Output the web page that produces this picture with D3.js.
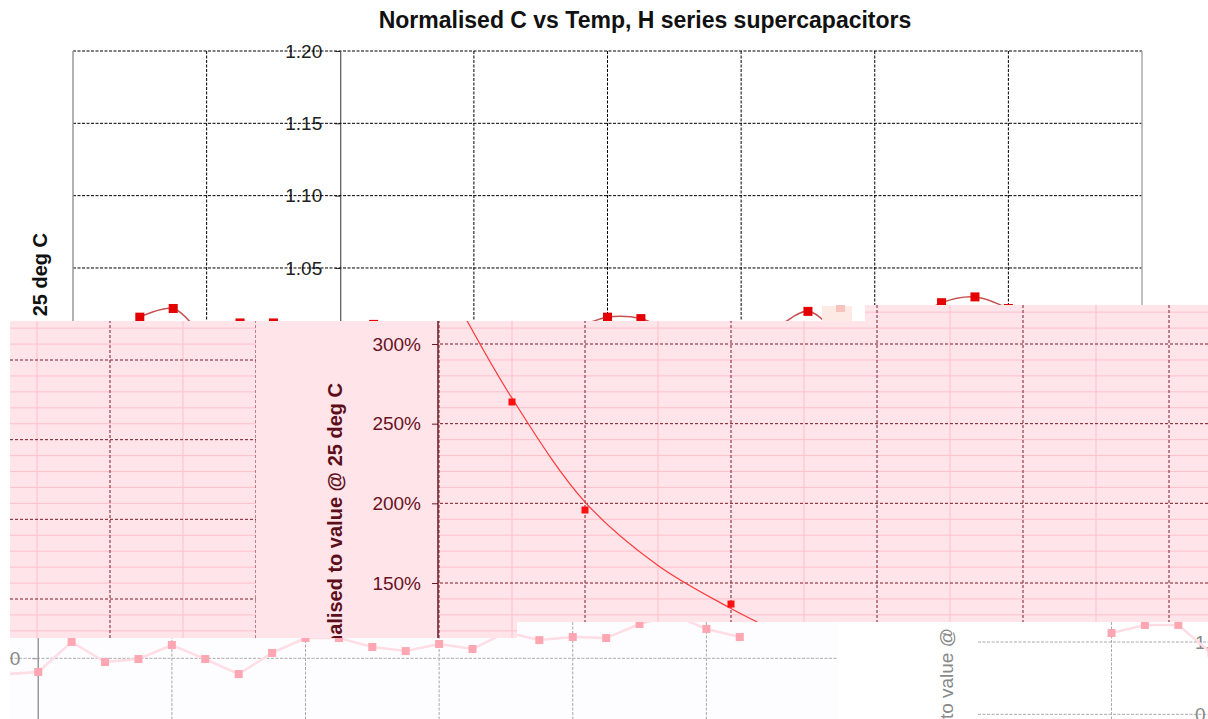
<!DOCTYPE html>
<html>
<head>
<meta charset="utf-8">
<script src="https://cdn.jsdelivr.net/npm/d3@7"></script>
<style>
  body { margin: 0; background: #fff; }
  svg { display: block; }
  text { font-family: "Liberation Sans", Arial, sans-serif; }
</style>
</head>
<body>
<script>
// chart text
const title = "Normalised C vs Temp, H series supercapacitors";
const yLabel = "Normalised to value @ 25 deg C";

// top chart (capacitance, white panel)
const topTemps  = [-35, -32.5, -30, -27.5, -25, -20, -17.5, -10, -2.5, 0, 2.5, 5, 10, 12.5, 15, 17.5, 22.5, 25, 27.5, 30];
const topValues = [1.016, 1.022, 1.004, 1.012, 1.012, 1.007, 1.011, 1.005, 1.009, 1.016, 1.015, 1.005, 1.006, 1.009, 1.020, 1.006, 1.012, 1.026, 1.030, 1.022];
const topTicks  = [1.05, 1.10, 1.15, 1.20];

// pink chart (ESR, percent)
const esrTemps  = [-35, -30, -20];
const esrValues = [2.636, 1.958, 1.368];
// trend line
const fitTemps  = [-38.4, -35, -30, -25, -20, -18.2];
const fitValues = [3.20, 2.66, 2.008, 1.61, 1.34, 1.255];
const pctTicks  = [1.5, 2.0, 2.5, 3.0];

// faded chart underneath (bottom left)
const lowTemps  = [-22.5, -20, -17.5, -15, -12.5, -10, -7.5, -5, -2.5, 0, 2.5, 5, 7.5, 10, 12.5, 15, 17.5, 20, 22.5, 25, 27.5, 30, 32.5];
const lowValues = [0.989, 0.9905, 1.0113, 0.9974, 0.9995, 1.0092, 0.9995, 0.9891, 1.0037, 1.014, 1.014, 1.0078, 1.005, 1.0099, 1.0064, 1.018, 1.0126, 1.0147, 1.014, 1.0237, 1.030, 1.0203, 1.0147];

// faded chart underneath (bottom right corner)
const cornerTemps  = [0, 2.5, 5, 7.5];
const cornerValues = [1.0062, 1.0118, 1.0118, 0.992];
const cornerTicks  = [0.95, 1.00];

const width = 1208, height = 719;

const svg = d3.select("body").append("svg")
    .attr("width", width)
    .attr("height", height);

svg.append("rect").attr("width", width).attr("height", height).attr("fill", "#fff");

const defs = svg.append("defs");
function clip(id, d) {
  defs.append("clipPath").attr("id", id).append("path").attr("d", d);
  return `url(#${id})`;
}
const pinkShape = "M10,321H865V305H1208V622H517V638H10Z";
const pinkClip = clip("pink", pinkShape);
const plotClip = clip("plot", "M438,321H865V305H1208V622H517V638H438Z");
const leftClip = clip("left", "M10,321H256V638H10Z");
const lowClip = clip("low", "M10,622H838V719H10Z");
const cornerClip = clip("corner", "M975,622H1208V719H975Z");

// ---------- top chart ----------
const xTop = d3.scaleLinear().domain([-40, 40]).range([73, 1142]);
const yTop = d3.scaleLinear().domain([1.0, 1.2]).range([340.3, 51]);

const topChart = svg.append("g");

topChart.append("text")
    .attr("x", 645).attr("y", 28)
    .attr("text-anchor", "middle")
    .attr("font-size", 23).attr("font-weight", "bold")
    .attr("fill", "#111")
    .text(title);

topChart.append("text")
    .attr("transform", "translate(47,233) rotate(-90)")
    .attr("text-anchor", "end")
    .attr("font-size", 20).attr("font-weight", "bold")
    .attr("fill", "#111")
    .text(yLabel);

// axis first so the gridlines run over the labels, as in the original
const topAxis = topChart.append("g")
    .attr("transform", `translate(${xTop(-20)},0)`)
    .call(d3.axisLeft(yTop).tickValues(topTicks).tickFormat(d3.format(".2f"))
      .tickSize(5).tickSizeOuter(0).tickPadding(13));
topAxis.selectAll("text").attr("font-size", 19).attr("fill", "#222")
    .attr("font-family", "Liberation Sans, Arial, sans-serif");
topAxis.selectAll("line, path").attr("stroke", "#333");

topChart.append("g").selectAll("line")
  .data(topTicks)
  .join("line")
    .attr("x1", 73).attr("x2", 1142)
    .attr("y1", d => yTop(d)).attr("y2", d => yTop(d))
    .attr("stroke", "#000").attr("stroke-dasharray", "3,1.5");

topChart.append("g").selectAll("line")
  .data(d3.range(-30, 40, 10).filter(d => d !== -20))
  .join("line")
    .attr("x1", d => xTop(d)).attr("x2", d => xTop(d))
    .attr("y1", 51).attr("y2", 340)
    .attr("stroke", "#000").attr("stroke-dasharray", "3,1.5");

topChart.append("line").attr("x1", 73).attr("x2", 73).attr("y1", 51).attr("y2", 340)
    .attr("stroke", "#999").attr("stroke-width", 1.5);
topChart.append("line").attr("x1", 1142).attr("x2", 1142).attr("y1", 51).attr("y2", 340)
    .attr("stroke", "#aaa").attr("stroke-width", 1.5);

const topLine = d3.line()
    .x((d, i) => xTop(topTemps[i]))
    .y(d => yTop(d))
    .curve(d3.curveCatmullRom);
topChart.append("path")
    .attr("d", topLine(topValues))
    .attr("fill", "none").attr("stroke", "#c85050").attr("stroke-width", 1.5);
topChart.append("g").selectAll("rect")
  .data(topValues)
  .join("rect")
    .attr("x", (d, i) => xTop(topTemps[i]) - 4.5)
    .attr("y", d => yTop(d) - 4.5)
    .attr("width", 9).attr("height", 9)
    .attr("fill", "#e40000");

// leftover artefact beside the 15 deg point
topChart.append("rect").attr("x", 822).attr("y", 306).attr("width", 30).attr("height", 15).attr("fill", "#fdeae4");
topChart.append("rect").attr("x", 836).attr("y", 305).attr("width", 9).attr("height", 7).attr("fill", "#f6c4bc");

// ---------- faded chart underneath ----------
const xLow = d3.scaleLinear().domain([-40, 40]).range([73 - 302, 1142 - 302]);
const yLow = d3.scaleLinear().domain([1.0, 1.2]).range([658.3, 369]);

const low = svg.append("g").attr("clip-path", lowClip);
low.append("rect").attr("x", 10).attr("y", 622).attr("width", 828).attr("height", 97).attr("fill", "#fdfcfe");
low.append("line").attr("x1", 10).attr("x2", 838).attr("y1", yLow(1)).attr("y2", yLow(1))
    .attr("stroke", "#aaa").attr("stroke-dasharray", "3,1.5");
low.append("g").selectAll("line")
  .data(d3.range(-10, 50, 10))
  .join("line")
    .attr("x1", d => xLow(d)).attr("x2", d => xLow(d))
    .attr("y1", 622).attr("y2", 719)
    .attr("stroke", "#aaa").attr("stroke-dasharray", "3,1.5");
const lowAxis = low.append("g")
    .attr("transform", `translate(${xLow(-20)},0)`)
    .call(d3.axisLeft(yLow).tickValues([1.0]).tickFormat(d3.format(".2f"))
      .tickSize(6).tickSizeOuter(0).tickPadding(12));
lowAxis.select(".domain").remove();
lowAxis.selectAll("text").attr("font-size", 19).attr("fill", "#888")
    .attr("font-family", "Liberation Sans, Arial, sans-serif");
lowAxis.selectAll("line").attr("stroke", "#999");
low.append("line").attr("x1", xLow(-20)).attr("x2", xLow(-20)).attr("y1", 622).attr("y2", 719)
    .attr("stroke", "#999").attr("stroke-width", 1.5);
low.append("path")
    .attr("d", d3.line().x((d, i) => xLow(lowTemps[i])).y(d => yLow(d))(lowValues))
    .attr("fill", "none").attr("stroke", "#ffdde5").attr("stroke-width", 2.5);
low.append("g").selectAll("rect")
  .data(lowValues)
  .join("rect")
    .attr("x", (d, i) => xLow(lowTemps[i]) - 4)
    .attr("y", d => yLow(d) - 4)
    .attr("width", 8).attr("height", 8)
    .attr("fill", "#ffa6b3");

svg.append("text")
    .attr("transform", "translate(953,628) rotate(-90)")
    .attr("text-anchor", "end")
    .attr("font-size", 19)
    .attr("fill", "#888")
    .text("Normalised to value @");

const xCorner = d3.scaleLinear().domain([-40, 40]).range([73 + 504, 1142 + 504]);
const yCorner = d3.scaleLinear().domain([1.0, 1.2]).range([642, 352.7]);
const corner = svg.append("g").attr("clip-path", cornerClip);
corner.append("g").selectAll("line")
  .data(cornerTicks)
  .join("line")
    .attr("x1", 978).attr("x2", 1208)
    .attr("y1", d => yCorner(d)).attr("y2", d => yCorner(d))
    .attr("stroke", "#aaa").attr("stroke-dasharray", "3,1.5");
corner.append("line").attr("x1", xCorner(0)).attr("x2", xCorner(0)).attr("y1", 622).attr("y2", 719)
    .attr("stroke", "#aaa").attr("stroke-dasharray", "3,1.5");
const cornerAxis = corner.append("g")
    .attr("transform", "translate(1248,0)")
    .call(d3.axisLeft(yCorner).tickValues(cornerTicks).tickFormat(d3.format(".2f"))
      .tickSize(6).tickSizeOuter(0).tickPadding(10));
cornerAxis.select(".domain").remove();
cornerAxis.selectAll("text").attr("font-size", 19).attr("fill", "#888")
    .attr("font-family", "Liberation Sans, Arial, sans-serif");
corner.append("path")
    .attr("d", d3.line().x((d, i) => xCorner(cornerTemps[i])).y(d => yCorner(d))(cornerValues))
    .attr("fill", "none").attr("stroke", "#ffdde5").attr("stroke-width", 2.5);
corner.append("g").selectAll("rect")
  .data(cornerValues)
  .join("rect")
    .attr("x", (d, i) => xCorner(cornerTemps[i]) - 4)
    .attr("y", d => yCorner(d) - 4)
    .attr("width", 8).attr("height", 8)
    .attr("fill", "#ffa6b3");

// ---------- pink chart on top ----------
const xMid = d3.scaleLinear().domain([-40, 10]).range([439, 1169]);
const yMid = d3.scaleLinear().domain([1.5, 3.0]).range([583, 344]);

const mid = svg.append("g").attr("clip-path", pinkClip);
mid.append("path").attr("d", pinkShape).attr("fill", "#ffe4ea");

function grid(g, x, y, dx, dy) {
  const minorY = d3.range(1.1, 3.35, 0.1).map(v => +v.toFixed(1));
  g.append("g").selectAll("line")
    .data(minorY.filter(v => Math.round(v * 10) % 5 !== 0))
    .join("line")
      .attr("x1", 0).attr("x2", width)
      .attr("y1", v => y(v) + dy).attr("y2", v => y(v) + dy)
      .attr("stroke", "#ffc0ca");
  g.append("g").selectAll("line")
    .data(d3.range(-75, 30, 10))
    .join("line")
      .attr("x1", t => x(t) + dx).attr("x2", t => x(t) + dx)
      .attr("y1", 300).attr("y2", 650)
      .attr("stroke", "#ffc0ca");
  g.append("g").selectAll("line")
    .data(minorY.filter(v => Math.round(v * 10) % 5 === 0))
    .join("line")
      .attr("x1", 0).attr("x2", width)
      .attr("y1", v => y(v) + dy).attr("y2", v => y(v) + dy)
      .attr("stroke", "#7a1a28").attr("stroke-dasharray", "3,2");
  g.append("g").selectAll("line")
    .data(d3.range(-80, 30, 10))
    .join("line")
      .attr("x1", t => x(t) + dx).attr("x2", t => x(t) + dx)
      .attr("y1", 300).attr("y2", 650)
      .attr("stroke", "#7a1a28").attr("stroke-dasharray", "3,2");
}

grid(mid.append("g").attr("clip-path", leftClip), xMid, yMid, -621, 16);
grid(mid.append("g").attr("clip-path", plotClip), xMid, yMid, 0, 0);

mid.append("line").attr("x1", 438).attr("x2", 438).attr("y1", 305).attr("y2", 640)
    .attr("stroke", "#6a1a26").attr("stroke-width", 1.5);

const midAxis = mid.append("g")
    .attr("transform", "translate(438,0)")
    .call(d3.axisLeft(yMid).tickValues(pctTicks).tickFormat(d3.format(".0%"))
      .tickSize(6).tickSizeOuter(0).tickPadding(11));
midAxis.select(".domain").remove();
midAxis.selectAll("text").attr("font-size", 19).attr("fill", "#6a1222")
    .attr("font-family", "Liberation Sans, Arial, sans-serif");
midAxis.selectAll("line").attr("stroke", "#6a1a26");

mid.append("text")
    .attr("transform", "translate(342,383) rotate(-90)")
    .attr("text-anchor", "end")
    .attr("font-size", 20).attr("font-weight", "bold")
    .attr("fill", "#5c0f1a")
    .text(yLabel);

const plot = mid.append("g").attr("clip-path", plotClip);
plot.append("path")
    .attr("d", d3.line().x((d, i) => xMid(fitTemps[i])).y(d => yMid(d)).curve(d3.curveCatmullRom)(fitValues))
    .attr("fill", "none").attr("stroke", "#ff3a3a").attr("stroke-width", 1.2);
plot.append("g").selectAll("rect")
  .data(esrValues)
  .join("rect")
    .attr("x", (d, i) => xMid(esrTemps[i]) - 3.5)
    .attr("y", d => yMid(d) - 3.5)
    .attr("width", 7).attr("height", 7)
    .attr("fill", "#ff1010");
</script>
</body>
</html>
